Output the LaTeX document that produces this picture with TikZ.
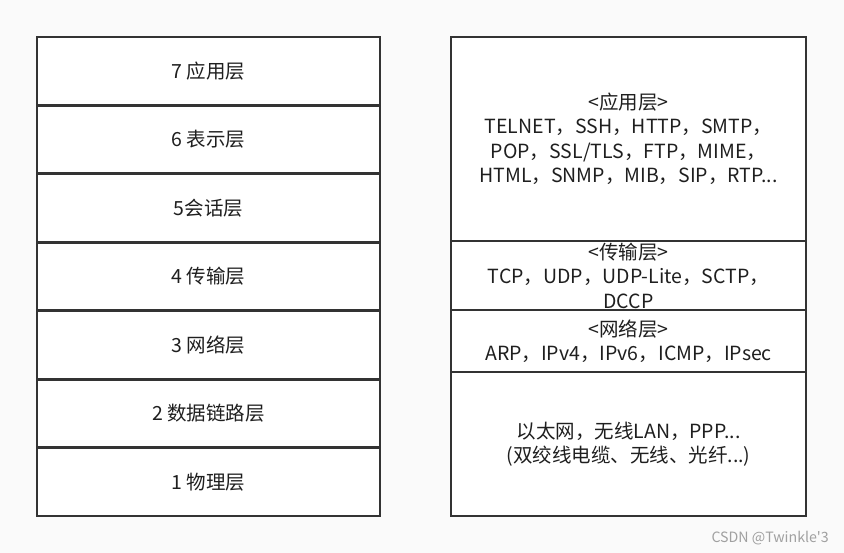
\documentclass[tikz,border=0pt]{standalone}
\usepackage{fontspec}
\setmainfont{Noto Sans CJK SC}
\newfontfamily\markfont{Noto Sans CJK SC}
\usetikzlibrary{positioning}
\definecolor{layerline}{HTML}{333333}
\definecolor{pagebg}{HTML}{FAFAFA}
\definecolor{marktext}{HTML}{A0A0A0}

\begin{document}
\begin{tikzpicture}[x=1pt,y=-1pt,
  layer/.style={draw=layerline,line width=2.8pt,fill=white,inner sep=0pt,outer sep=0pt,
    align=center,text=black!88,font=\fontsize{19.5}{24.5}\selectfont},
  osi/.style={layer,minimum width=343pt,minimum height=68.43pt},
  tcpip/.style={layer,minimum width=355pt}]
\fill[pagebg] (0,0) rectangle (844,553);
\useasboundingbox (0,0) rectangle (844,553);

% OSI reference model
\node[osi,anchor=north west] (osi7) at (37,37) {7 应用层};
\node[osi,below=0pt of osi7] (osi6) {6 表示层};
\node[osi,below=0pt of osi6] (osi5) {5会话层};
\node[osi,below=0pt of osi5] (osi4) {4 传输层};
\node[osi,below=0pt of osi4] (osi3) {3 网络层};
\node[osi,below=0pt of osi3] (osi2) {2 数据链路层};
\node[osi,below=0pt of osi2] (osi1) {1 物理层};

% TCP/IP protocols
\node[tcpip,minimum height=204pt,anchor=north west] (app) at (451,37)
  {<应用层>\\TELNET，SSH，HTTP，SMTP，\\POP，SSL/TLS，FTP，MIME，\\HTML，SNMP，MIB，SIP，RTP...};
\node[tcpip,minimum height=69pt,below=0pt of app] (trans)
  {<传输层>\\TCP，UDP，UDP-Lite，SCTP，\\DCCP};
\node[tcpip,minimum height=62pt,below=0pt of trans] (net)
  {<网络层>\\ARP，IPv4，IPv6，ICMP，IPsec};
\node[tcpip,minimum height=144pt,below=0pt of net] (link)
  {以太网，无线LAN，PPP...\\(双绞线电缆、无线、光纤...)};

\node[anchor=east,inner sep=0pt,text=marktext,font=\markfont\fontsize{14.2}{15}\selectfont] (mark) at (829,538) {CSDN @Twinkle'3};
\end{tikzpicture}
\end{document}
